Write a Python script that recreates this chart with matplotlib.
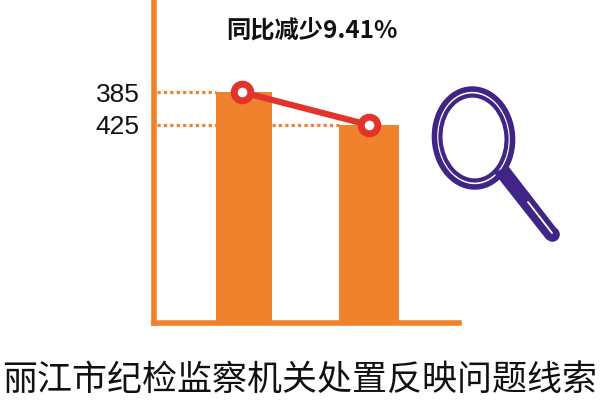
import matplotlib
matplotlib.use("Agg")
import matplotlib.pyplot as plt
from matplotlib.patches import Ellipse, Polygon
import numpy as np

plt.rcParams['font.family'] = ['Noto Sans CJK SC', 'DejaVu Sans']

# values are read as pixel heights above the axis, the picture's labels don't scale
positions = [0, 1]
bar_heights = [231, 198]
bar_widths = [0.45, 0.48]
marker_x = [-0.02, 1.0]
tick_labels = ["385", "425"]
change_label = "同比减少9.41%"
title = "丽江市纪检监察机关处置反映问题线索"

ORANGE = "#f0812d"
RED = "#e3342b"
PURPLE = "#3f2585"

fig = plt.figure(figsize=(6, 4), dpi=100, facecolor="white")

# main chart, box runs from x=153.5 to 459 and y=0 to 323 in pixels
ax = fig.add_axes([153.5 / 600, (400 - 323) / 400, (459 - 153.5) / 600, 323 / 400])
ax.set_xlim((153.5 - 244) / 125, (459 - 244) / 125)
ax.set_ylim(0, 323)
ax.bar(positions, bar_heights, width=bar_widths, color=ORANGE, zorder=2)

for s in ["top", "right"]:
    ax.spines[s].set_visible(False)
for s in ["left", "bottom"]:
    ax.spines[s].set_color(ORANGE)
    ax.spines[s].set_linewidth(4)
ax.set_xticks([])
ax.set_yticks(bar_heights)
ax.set_yticklabels(tick_labels, family="Liberation Sans", fontsize=19, color="#111111")
ax.tick_params(axis="y", length=0, pad=10)

# dotted guides from the axis to the bars
for h, stop in zip(bar_heights, [positions[0] - bar_widths[0] / 2, positions[1] - bar_widths[1] / 2]):
    ax.plot([ax.get_xlim()[0] + 0.03, stop], [h, h], color=ORANGE, lw=2.3, ls=(0, (1, 1)), zorder=1)

ax.plot(marker_x, bar_heights, color=RED, lw=4.5, zorder=3, solid_capstyle="butt")
ax.plot(marker_x, bar_heights, ls="none", marker="o", ms=12, mfc="white", mec=RED, mew=5, zorder=4)

fig.text(312 / 600, 1 - 31 / 400, change_label, ha="center", va="center", fontsize=17.5,
         fontweight="bold", color="#111111")
fig.text(300 / 600, 1 - 380 / 400, title, ha="center", va="center", fontsize=25.2, color="#111111")

# magnifier, pixel coordinates on an overlay
ov = fig.add_axes([0, 0, 1, 1], facecolor="none")
ov.set_xlim(0, 600)
ov.set_ylim(400, 0)
ov.axis("off")
ov.add_patch(Polygon([(495, 173), (508, 167), (556, 229), (547, 239)], closed=True, fc=PURPLE, ec=PURPLE, lw=1, zorder=2))
ov.plot([551.5], [234], marker="o", ms=9.5, color=PURPLE, zorder=2)
ov.plot([528, 552], [202, 233], color="white", lw=1.3, solid_capstyle="round", zorder=3)
ov.add_patch(Ellipse((473.5, 138), 78, 98, angle=-4, fill=False, ec=PURPLE, lw=4, zorder=4))
ov.add_patch(Ellipse((473.5, 138), 66, 85, angle=-4, fill=False, ec=PURPLE, lw=3, zorder=4))

fig.savefig("out.png", dpi=100)
